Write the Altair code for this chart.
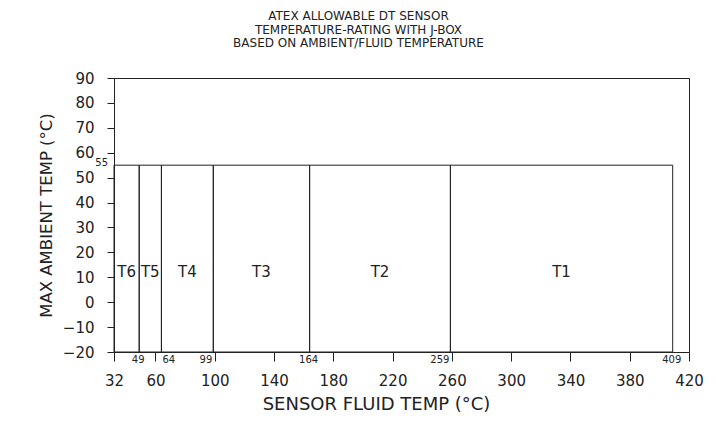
import altair as alt
import pandas as pd

# ---- data ----
boundaries = [32, 49, 64, 99, 164, 259, 409]
classes = ["T6", "T5", "T4", "T3", "T2", "T1"]
max_ambient = 55
min_ambient = -20
class_label_y = 12
x_ticks = [32, 60, 100, 140, 180, 220, 260, 300, 340, 380, 420]
y_ticks = [-20, -10, 0, 10, 20, 30, 40, 50, 60, 70, 80, 90]
boundary_labels = [49, 64, 99, 164, 259, 409]
title_lines = [
    "ATEX ALLOWABLE DT SENSOR",
    "TEMPERATURE-RATING WITH J-BOX",
    "BASED ON AMBIENT/FLUID TEMPERATURE",
]

zones = pd.DataFrame({
    "cls": classes,
    "lo": boundaries[:-1],
    "hi": boundaries[1:],
})
zones["mid"] = (zones["lo"] + zones["hi"]) / 2
zones["top"] = max_ambient
zones["bot"] = min_ambient
zones["ly"] = class_label_y

blab = pd.DataFrame({"v": boundary_labels, "y": min_ambient, "t": [str(v) for v in boundary_labels]})
top_lab = pd.DataFrame({"x": [boundaries[0]], "y": [max_ambient], "t": [str(max_ambient)]})

FONT = "DejaVu Sans"
INK = "#222222"

xs = alt.Scale(domain=[32, 420], nice=False, zero=False)
ys = alt.Scale(domain=[-20, 90], nice=False, zero=False)

x_axis = alt.Axis(values=x_ticks, tickCount=len(x_ticks), title="SENSOR FLUID TEMP (°C)",
                  titleX=262, titleY=52, titleAnchor="middle", titleBaseline="middle",
                  labelOverlap=False, labelFlush=False, grid=False, tickSize=9,
                  labelPadding=12, titleFontSize=18)
y_axis = alt.Axis(values=y_ticks, tickCount=len(y_ticks), title="MAX AMBIENT TEMP (°C)",
                  titleX=-68, titleY=137, titleAngle=-90, titleAnchor="middle",
                  titleBaseline="middle", labelOverlap=False, labelFlush=False,
                  grid=False, tickSize=7, labelPadding=13, titleFontSize=16.5)


def X(field):
    return alt.X(field, scale=xs, axis=x_axis)


def Y(field):
    return alt.Y(field, scale=ys, axis=y_axis)


rects = alt.Chart(zones).mark_rect(fill=None, stroke=INK, strokeWidth=1).encode(
    x=X("lo:Q"), x2="hi:Q", y=Y("bot:Q"), y2="top:Q",
)

cls_text = alt.Chart(zones).mark_text(font=FONT, fontSize=15, color=INK).encode(
    x=X("mid:Q"), y=Y("ly:Q"), text="cls:N"
)

bl_center = alt.Chart(blab).transform_filter(
    "datum.v == 49 || datum.v == 164 || datum.v == 409"
).mark_text(font=FONT, fontSize=10, color=INK, baseline="top", dy=3, dx=-1).encode(
    x=X("v:Q"), y=Y("y:Q"), text="t:N"
)
bl_left = alt.Chart(blab).transform_filter("datum.v == 64").mark_text(
    font=FONT, fontSize=10, color=INK, baseline="top", dy=3, dx=1, align="left"
).encode(x=X("v:Q"), y=Y("y:Q"), text="t:N")
bl_right = alt.Chart(blab).transform_filter("datum.v == 99 || datum.v == 259").mark_text(
    font=FONT, fontSize=10, color=INK, baseline="top", dy=3, dx=-1, align="right"
).encode(x=X("v:Q"), y=Y("y:Q"), text="t:N")

lab55 = alt.Chart(top_lab).mark_text(
    font=FONT, fontSize=10, color=INK, baseline="bottom", align="right", dx=-6, dy=3
).encode(x=X("x:Q"), y=Y("y:Q"), text="t:N")

chart = alt.layer(rects, cls_text, bl_center, bl_left, bl_right, lab55).properties(
    width=575,
    height=274,
    background="white",
    autosize=alt.AutoSizeParams(type="none"),
    padding={"left": 106, "top": 70, "right": 20, "bottom": 68},
    title=alt.TitleParams(
        text=title_lines, font=FONT, fontSize=12, fontWeight="normal", color=INK,
        anchor="middle", dx=-43, offset=21, lineHeight=13.5,
    ),
).configure_view(stroke=INK, strokeWidth=1).configure_axis(
    grid=False,
    domainColor=INK,
    tickColor=INK,
    labelFont=FONT,
    labelFontSize=15,
    labelColor=INK,
    titleFont=FONT,
    titleFontWeight="normal",
    titleColor=INK,
)

chart.save("out.html", embed_options={"renderer": "svg", "actions": False})
